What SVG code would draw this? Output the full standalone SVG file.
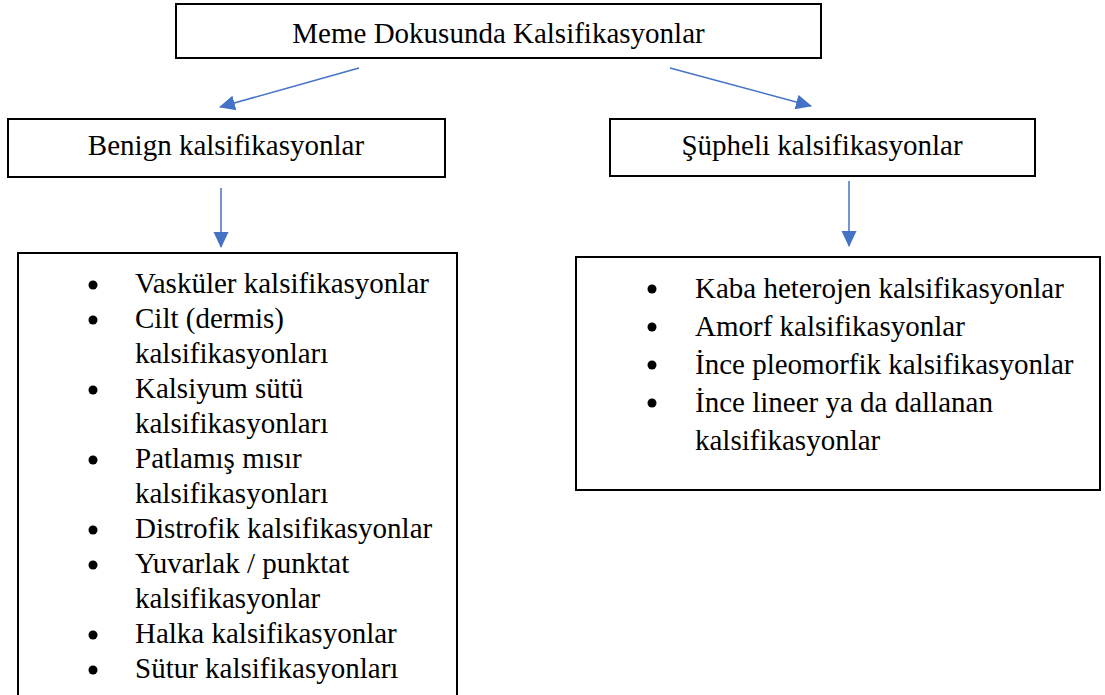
<svg xmlns="http://www.w3.org/2000/svg" width="1105" height="695" viewBox="0 0 1105 695">
<style>
.box{fill:#fff;stroke:#000;stroke-width:2}
.t{font-family:'Liberation Serif',Tinos,'Times New Roman',Times,'Noto Serif','DejaVu Serif',serif;font-size:29px;fill:#000}
.c{text-anchor:middle}
.con{stroke:#4472C4;stroke-width:1.5;fill:none}
</style>
<defs>
<marker id="ah2" markerWidth="16" markerHeight="16" refX="15" refY="8" orient="auto" markerUnits="userSpaceOnUse" viewBox="0 0 16 16">
<path d="M0,0.5 L16,8 L0,15.5 z" fill="#4472C4"/>
</marker>
</defs>
<rect width="1105" height="695" fill="#fff"/>
<g id="connectors">
<line class="con" x1="359" y1="68" x2="220" y2="107" marker-end="url(#ah2)"/>
<line class="con" x1="670" y1="68" x2="811" y2="106" marker-end="url(#ah2)"/>
<line class="con" x1="221" y1="188" x2="221" y2="247" marker-end="url(#ah2)"/>
<line class="con" x1="849" y1="181" x2="849" y2="246" marker-end="url(#ah2)"/>
</g>
<g id="root">
<rect class="box" x="176" y="4" width="645" height="54"/>
<text class="t c" x="498.5" y="43">Meme Dokusunda Kalsifikasyonlar</text>
</g>
<g id="benign">
<rect class="box" x="8" y="119" width="437" height="58"/>
<text class="t c" x="226" y="155">Benign kalsifikasyonlar</text>
</g>
<g id="supheli">
<rect class="box" x="610" y="119" width="425" height="57"/>
<text class="t c" x="822" y="155">Şüpheli kalsifikasyonlar</text>
</g>
<g id="benign-list">
<rect class="box" x="18" y="253" width="439" height="460"/>
<g fill="#000">
<circle cx="93" cy="285" r="4.5"/>
<circle cx="93" cy="320" r="4.5"/>
<circle cx="93" cy="390" r="4.5"/>
<circle cx="93" cy="460" r="4.5"/>
<circle cx="93" cy="530" r="4.5"/>
<circle cx="93" cy="565" r="4.5"/>
<circle cx="93" cy="635" r="4.5"/>
<circle cx="93" cy="670" r="4.5"/>
</g>
<text class="t" x="135" y="293">Vasküler kalsifikasyonlar</text>
<text class="t" x="135" y="328">Cilt (dermis)</text>
<text class="t" x="135" y="363">kalsifikasyonları</text>
<text class="t" x="135" y="398">Kalsiyum sütü</text>
<text class="t" x="135" y="433">kalsifikasyonları</text>
<text class="t" x="135" y="468">Patlamış mısır</text>
<text class="t" x="135" y="503">kalsifikasyonları</text>
<text class="t" x="135" y="538">Distrofik kalsifikasyonlar</text>
<text class="t" x="135" y="573">Yuvarlak / punktat</text>
<text class="t" x="135" y="608">kalsifikasyonlar</text>
<text class="t" x="135" y="643">Halka kalsifikasyonlar</text>
<text class="t" x="135" y="678">Sütur kalsifikasyonları</text>
</g>
<g id="supheli-list">
<rect class="box" x="576" y="257" width="524" height="233"/>
<g fill="#000">
<circle cx="652" cy="289" r="4.5"/>
<circle cx="652" cy="327" r="4.5"/>
<circle cx="652" cy="365" r="4.5"/>
<circle cx="652" cy="403" r="4.5"/>
</g>
<text class="t" x="695" y="298">Kaba heterojen kalsifikasyonlar</text>
<text class="t" x="695" y="336">Amorf kalsifikasyonlar</text>
<text class="t" x="695" y="374">İnce pleomorfik kalsifikasyonlar</text>
<text class="t" x="695" y="412">İnce lineer ya da dallanan</text>
<text class="t" x="695" y="450">kalsifikasyonlar</text>
</g>
</svg>
